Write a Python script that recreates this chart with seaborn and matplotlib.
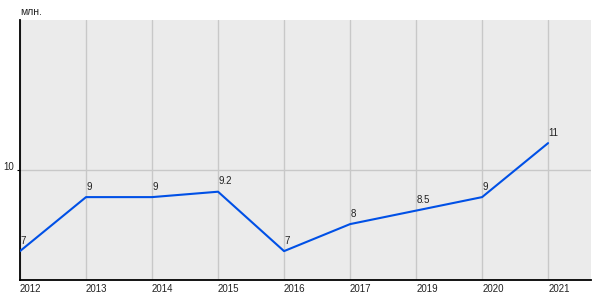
import matplotlib
matplotlib.use("Agg")
import matplotlib.pyplot as plt
import seaborn as sns
import pandas as pd

years = ["2012", "2013", "2014", "2015", "2016", "2017", "2019", "2020", "2021"]
values = [7, 9, 9, 9.2, 7, 8, 8.5, 9, 11]
value_labels = ["7", "9", "9", "9.2", "7", "8", "8.5", "9", "11"]
y_ticks = [10]
unit_label = "млн."

sns.set_theme(style="white")
plt.rcParams["font.family"] = ["Liberation Sans", "DejaVu Sans"]

df = pd.DataFrame({"year": years, "value": values})

fig = plt.figure(figsize=(6, 3), dpi=100)
ax = fig.add_axes([20 / 600, 20 / 300, 571 / 600, 260 / 300])
ax.set_facecolor("#ebebeb")

sns.lineplot(data=df, x="year", y="value", sort=False, ax=ax,
             color="#0050e6", linewidth=1.5, zorder=3)

ax.set_xlim(0, 8.65)
ax.set_ylim(5.93, 15.56)
ax.set_yticks(y_ticks)
ax.set_yticklabels([str(t) for t in y_ticks])
ax.set_xlabel("")
ax.set_ylabel("")

ax.grid(True, color="#c8c8c8", linewidth=1.0)
ax.set_axisbelow(True)

for s in ["top", "right"]:
    ax.spines[s].set_visible(False)
for s in ["left", "bottom"]:
    ax.spines[s].set_color("black")
    ax.spines[s].set_linewidth(1.3)

ax.tick_params(axis="x", length=0, pad=3, labelsize=7, labelcolor="#222222")
ax.tick_params(axis="y", length=2.5, width=0.8, color="black", pad=2,
               labelsize=7, labelcolor="#222222", left=True)
for lab in ax.get_xticklabels():
    lab.set_horizontalalignment("left")
for lab in ax.get_yticklabels():
    lab.set_verticalalignment("baseline")

for i, (v, t) in enumerate(zip(values, value_labels)):
    ax.annotate(t, xy=(i, v), xytext=(0.5, 4), textcoords="offset points",
                ha="left", va="bottom", fontsize=7, color="#222222", zorder=4)

fig.text(20 / 600, 1 - 12 / 300, unit_label, ha="left", va="center",
         fontsize=7.5, color="#222222")

fig.savefig("out.png", dpi=100)
